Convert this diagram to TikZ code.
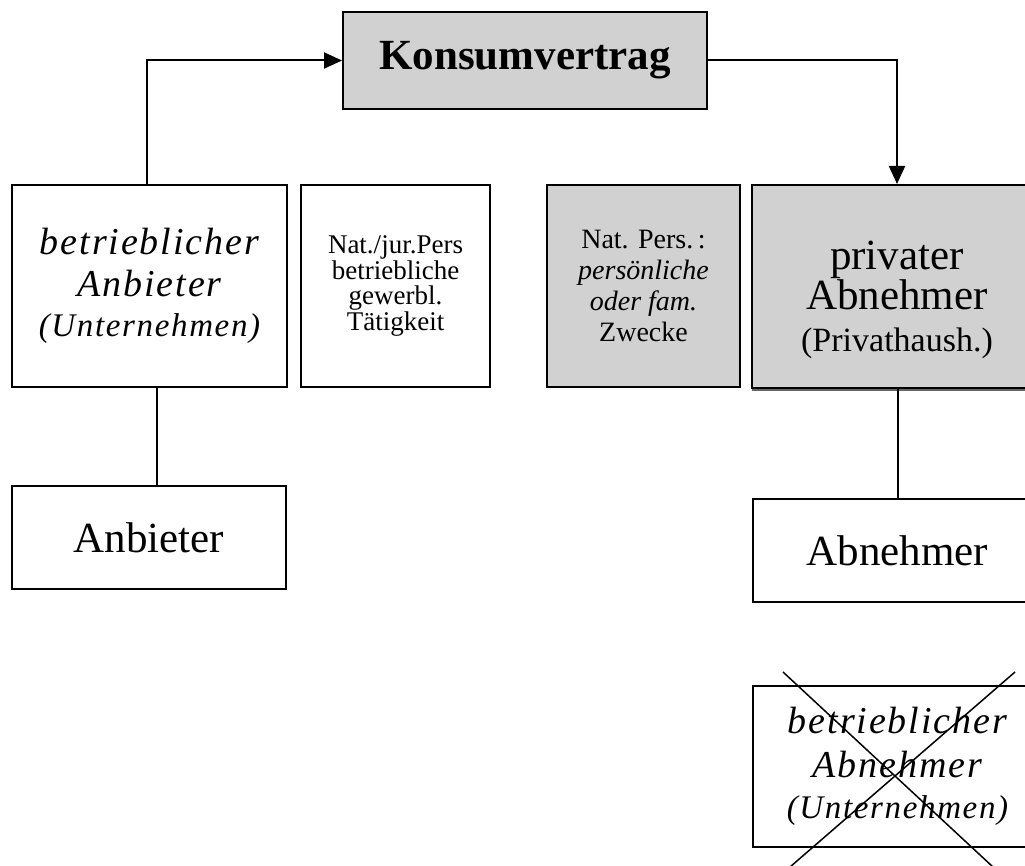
\documentclass[tikz,border=0pt]{standalone}
\usepackage{fontspec}
\setmainfont{Liberation Serif}
\newfontfamily\spacedit[LetterSpace=5]{Liberation Serif}
\usetikzlibrary{arrows.meta}
\tikzset{
  box/.style={draw=black, line width=2pt, inner sep=0pt, align=center, fill=white},
  graybox/.style={box, fill=black!18},
  conn/.style={draw=black, line width=2pt},
  arr/.style={conn, -{Triangle[length=18pt,width=16pt]}},
  cross/.style={draw=black, line width=1.5pt},
  txt/.style={inner sep=0pt, align=center}
}
\begin{document}
\begin{tikzpicture}[x=1pt,y=-1pt]
\useasboundingbox (0,0) rectangle (1025,866);
\clip (0,0) rectangle (1025,866);
\fill[white] (0,0) rectangle (1025,866);

% top contract box
\node[graybox, minimum width=364pt, minimum height=97pt,
      font=\fontsize{43}{46}\selectfont\bfseries] (konsum) at (525,60.5)
  {Konsumvertrag};

% row of four boxes
\node[box, minimum width=275pt, minimum height=202pt,
      font=\spacedit\itshape\fontsize{38}{42}\selectfont] (banb) at (149.5,286)
  {betrieblicher\\ Anbieter\\[-2pt]
   {\fontsize{33}{40}\selectfont (Unternehmen)}};
\node[box, minimum width=189pt, minimum height=202pt,
      font=\fontsize{27}{25.5}\selectfont] (natjur) at (395.5,286)
  {Nat./jur.Pers\\ betriebliche\\ gewerbl.\\ Tätigkeit};
\node[graybox, minimum width=193pt, minimum height=202pt,
      font=\fontsize{28}{31}\selectfont] (natpers) at (643.5,286)
  {Nat. Pers.\,:\\ \textit{persönliche}\\ \textit{oder fam.}\\ Zwecke};
\fill[black!60] (752,386) rectangle (1042,391);
\node[graybox, minimum width=290pt, minimum height=203pt] (priv) at (897,286.5) {};
\node[txt, font=\fontsize{43}{40}\selectfont] (privtext) at ([yshift=-13pt]priv.center)
  {privater\\ Abnehmer\\[2pt] {\fontsize{34}{40}\selectfont (Privathaush.)}};

% lower boxes
\node[box, minimum width=274pt, minimum height=103pt,
      font=\fontsize{43}{46}\selectfont] (anb) at (149,537.5)
  {Anbieter};
\node[box, minimum width=289pt, minimum height=103pt,
      font=\fontsize{43}{46}\selectfont] (abn) at (897.5,550.5)
  {Abnehmer};
\node[box, minimum width=289pt, minimum height=161pt,
      font=\spacedit\itshape\fontsize{38}{44}\selectfont] (babn) at (897.5,766.5)
  {betrieblicher\\ Abnehmer\\[-3pt]
   {\fontsize{33}{40}\selectfont (Unternehmen)}};

% connectors
\draw[arr] ([xshift=-2.5pt]banb.north) |- (konsum.west);
\draw[arr] (konsum.east) -| (priv.north);
\draw[conn] ([xshift=8pt]anb.north |- banb.south) -- ([xshift=8pt]anb.north);
\draw[conn] (abn.north |- priv.south) -- (abn.north);

% cross over the last box
\coordinate (c1) at (783,672);
\coordinate (c2) at (993,867);
\coordinate (c3) at (1015,672);
\coordinate (c4) at (790,867);
\draw[cross] (c1) -- (c2);
\draw[cross] (c3) -- (c4);
\end{tikzpicture}
\end{document}
